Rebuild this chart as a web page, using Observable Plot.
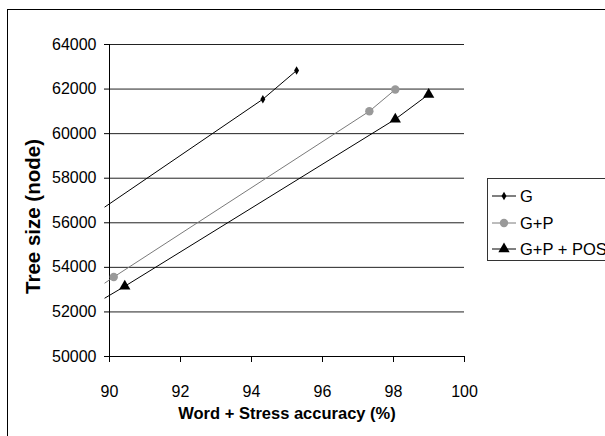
<!DOCTYPE html>
<html><head><meta charset="utf-8">
<script src="https://cdn.jsdelivr.net/npm/d3@7"></script>
<script src="https://cdn.jsdelivr.net/npm/@observablehq/plot@0.6"></script>
<style>
html,body{margin:0;padding:0;background:#fff;overflow:hidden;}
#wrap{position:relative;width:605px;height:436px;overflow:hidden;font-family:"Liberation Sans",Arial,sans-serif;}
#frame{position:absolute;left:7px;top:9px;width:700px;height:600px;border:1px solid #000;box-sizing:border-box;}
#chart{position:absolute;left:0;top:0;}
#legend{position:absolute;left:487px;top:178px;width:170px;height:83px;border:1px solid #333;background:#fff;box-sizing:border-box;}
.row{position:absolute;left:0;height:20px;white-space:nowrap;}
.row svg{position:absolute;left:4px;top:3px;}
.row span{position:absolute;left:32px;top:0;font-size:16.5px;line-height:20px;color:#000;}
</style></head>
<body><div id="wrap"><div id="frame"></div><div id="chart"></div><div id="legend"></div></div>
<script>
// ---- data ----
const seriesNames = ["G", "G+P", "G+P + POS"];
const xTicks = [90, 92, 94, 96, 98, 100];
const yTicks = [50000, 52000, 54000, 56000, 58000, 60000, 62000, 64000];
const gX = [94.32, 95.27];
const gY = [61545, 62832];
const gpX = [90.12, 97.32, 98.05];
const gpY = [53566, 61006, 61979];
const posX = [90.43, 98.05, 98.99];
const posY = [53150, 60647, 61760];
// extended trend-line starts (left of the axis)
const trendStartX = [89.87, 89.87, 89.87];
const trendStartY = [56710, 53297, 52622];

const lineColors = ["#000", "#7a7a7a", "#000"];
const markFills = ["#000", "#999", "#000"];
const symbols = ["diamond", "circle", "triangle"];
const radii = [2.6, 4.2, 4.2];

const seriesX = [gX, gpX, posX];
const seriesY = [gY, gpY, posY];

const points = [];
const lines = [];
seriesNames.forEach((s, i) => {
  lines.push({series: s, x: trendStartX[i], y: trendStartY[i]});
  seriesX[i].forEach((x, j) => {
    points.push({series: s, x, y: seriesY[i][j]});
    lines.push({series: s, x, y: seriesY[i][j]});
  });
});

const chart = Plot.plot({
  width: 605, height: 436,
  marginLeft: 109, marginRight: 141, marginTop: 44, marginBottom: 80,
  style: {fontFamily: "'Liberation Sans', Arial, sans-serif", fontSize: "16px", color: "#000", background: "transparent", overflow: "visible"},
  x: {domain: [90, 100], ticks: xTicks, tickSize: 6, tickPadding: 23, label: null},
  y: {domain: [50000, 64000], ticks: yTicks, tickSize: 5, tickPadding: 8, tickFormat: d => String(d), label: null},
  color: {domain: seriesNames, range: lineColors},
  marks: [
    Plot.ruleY(yTicks.slice(1), {stroke: "#222", strokeWidth: 1}),
    Plot.ruleX([90], {stroke: "#000"}),
    Plot.ruleY([50000], {stroke: "#000"}),
    Plot.line(lines, {x: "x", y: "y", z: "series", stroke: "series", strokeWidth: 1}),
    ...seriesNames.map((s, i) => Plot.dot(points.filter(d => d.series === s), {
      x: "x", y: "y", symbol: () => symbols[i], r: radii[i], fill: markFills[i], stroke: "none"
    })),
    Plot.text(["Word + Stress accuracy (%)"], {frameAnchor: "bottom", textAnchor: "middle", dy: 62, fontWeight: "bold", fontSize: 16.5, fill: "#000"}),
    Plot.text(["Tree size (node)"], {frameAnchor: "left", textAnchor: "middle", dx: -76, dy: 16, rotate: -90, fontWeight: "bold", fontSize: 20.5, fill: "#000"})
  ]
});
document.getElementById("chart").appendChild(chart);

// legend
const legend = document.getElementById("legend");
const sym = {diamond: d3.symbolDiamond, circle: d3.symbolCircle, triangle: d3.symbolTriangle};
seriesNames.forEach((s, i) => {
  const row = document.createElement("div");
  row.className = "row";
  row.style.top = (7 + i * 26.5) + "px";
  const path = d3.symbol(sym[symbols[i]], Math.PI * radii[i] * radii[i])();
  row.innerHTML = `<svg width="24" height="14"><line x1="0" x2="24" y1="7" y2="7" stroke="${lineColors[i]}" stroke-width="1"/><path transform="translate(12,7)" d="${path}" fill="${markFills[i]}"/></svg><span>${s}</span>`;
  legend.appendChild(row);
});
</script></body></html>
